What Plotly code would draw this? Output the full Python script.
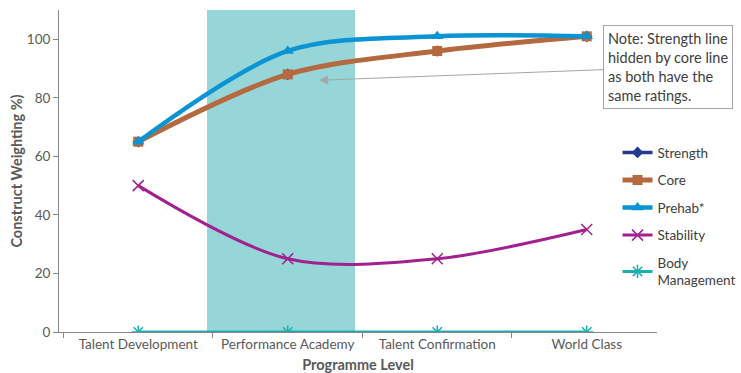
import plotly.graph_objects as go

levels = ["Talent Development", "Performance Academy", "Talent Confirmation", "World Class"]

strength = [65, 88, 96, 101]
core = [65, 88, 96, 101]
prehab = [65, 96, 101, 101]
stability = [50, 25, 25, 35]
body_management = [0, 0, 0, 0]

FONT = "Lato"
TEXT = "#595959"

series = [
    ("Strength", strength, "#213A8F", "diamond", 9, 3.5),
    ("Core", core, "#B4693F", "square", 10, 5),
    ("Prehab*", prehab, "#0A94D4", "triangle-up", 11, 4.5),
    ("Stability", stability, "#A1228F", "x-thin-open", 11, 3),
    ("Body<br>Management", body_management, "#1AAFB3", "asterisk-open", 11, 3),
]

fig = go.Figure()
for i, (name, vals, color, sym, msize, lw) in enumerate(series):
    marker = dict(symbol=sym, size=msize, color=color)
    if sym.endswith("open"):
        marker["line"] = dict(color=color, width=1.5)
    fig.add_trace(go.Scatter(
        x=levels, y=vals, name=name, mode="lines+markers",
        legendgroup=f"g{i}",
        line=dict(color=color, width=lw, shape="spline", smoothing=0.9),
        marker=marker,
    ))

# Highlight the Performance Academy band
fig.add_shape(type="rect", xref="x", yref="y", x0=0.46, x1=1.45, y0=0, y1=110,
              fillcolor="#96D5D8", line=dict(width=0), layer="below")

fig.add_annotation(
    x=1.21, y=86, xref="x", yref="y",
    ax=349, ay=-13,
    text="Note: Strength line<br>hidden by core line<br>as both have the<br>same ratings.",
    align="left", showarrow=True, arrowhead=2, arrowsize=1.8, arrowwidth=1,
    arrowcolor="#A6A6A6", bordercolor="#A6A6A6", borderwidth=1, borderpad=4,
    bgcolor="white", font=dict(family=FONT, size=14.5, color="#404040"),
)

fig.update_layout(
    width=741, height=373,
    margin=dict(l=59, r=84, t=10, b=41, autoexpand=False),
    paper_bgcolor="white", plot_bgcolor="white",
    font=dict(family=FONT, size=13, color=TEXT),
    legend=dict(x=0.934, y=0.605, xanchor="left", yanchor="top",
                itemwidth=30, tracegroupgap=7, bgcolor="rgba(0,0,0,0)",
                font=dict(family=FONT, size=13.5, color="#404040")),
    xaxis=dict(
        range=[-0.53, 3.47], showline=True, linecolor="#868686", linewidth=1,
        ticks="outside", tickson="boundaries", ticklen=5, tickcolor="#868686",
        showgrid=False, zeroline=False,
        tickfont=dict(family=FONT, size=13.5, color=TEXT),
        title=dict(text="<b>Programme Level</b>", standoff=8,
                   font=dict(family=FONT, size=14.5, color=TEXT)),
    ),
    yaxis=dict(
        range=[0, 110], tickvals=[0, 20, 40, 60, 80, 100],
        showline=True, linecolor="#868686", linewidth=1,
        ticks="outside", ticklen=5, tickcolor="#868686",
        showgrid=False, zeroline=False,
        tickfont=dict(family=FONT, size=13.5, color=TEXT),
        title=dict(text="<b>Construct Weighting %)</b>", standoff=0,
                   font=dict(family=FONT, size=14.5, color=TEXT)),
    ),
)

fig.write_html("out.html")
